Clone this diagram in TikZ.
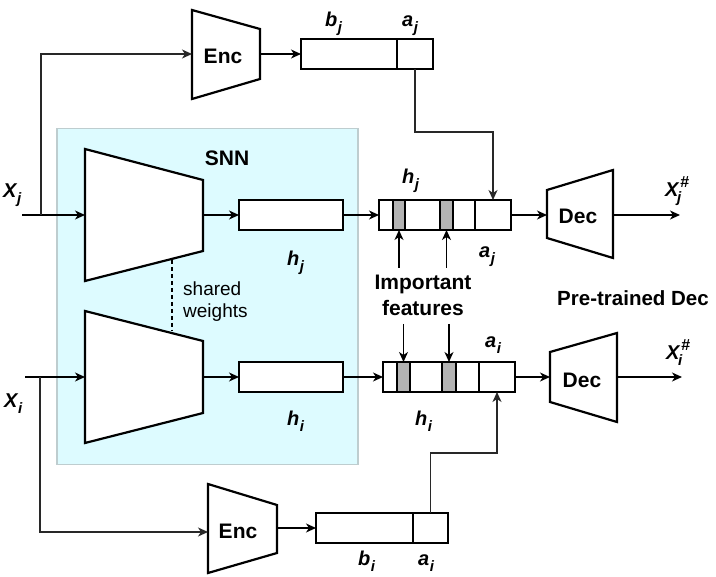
\documentclass[tikz,border=0pt]{standalone}
\usepackage{fontspec}
\setmainfont{Liberation Sans}
\usetikzlibrary{arrows.meta,calc}
\definecolor{snnfill}{RGB}{221,251,255}
\definecolor{snnline}{RGB}{190,205,207}
\definecolor{featgrey}{RGB}{179,179,179}
\definecolor{routecol}{RGB}{40,40,40}
\newcommand\vsub[1]{\raisebox{-5.5pt}{\fontsize{15}{18}\selectfont\bfseries\itshape #1}}
\newcommand\vlbl[2]{{\bfseries\itshape #1}\kern0.5pt\vsub{#2}}
\newcommand\vlblh[2]{{\bfseries\itshape #1}\rlap{\kern1.5pt\raisebox{9pt}{\fontsize{16}{18}\selectfont\bfseries\itshape\#}}\kern-1.5pt\vsub{#2}}
\begin{document}
\begin{tikzpicture}[x=1pt,y=-1pt,
  blk/.style={draw,line width=2.2pt,fill=white,line join=miter},
  vecell/.style={draw,line width=2.2pt,fill=white,rectangle,inner sep=0pt,outer sep=0pt,minimum height=30pt,anchor=west},
  greycell/.style={vecell,fill=featgrey},
  tipped/.style={-{Stealth[length=10pt,width=9pt,inset=3pt]}},
  arr/.style={line width=1.3pt,tipped},
  route/.style={line width=1.1pt,draw=routecol},
  bigtext/.style={font=\fontsize{21}{26}\selectfont\bfseries,inner sep=0pt},
  varlabel/.style={font=\fontsize{20}{24}\selectfont,inner sep=0pt,anchor=base west},
  ]
\useasboundingbox (0,0) rectangle (716,577);

% SNN background
\node[draw=snnline,fill=snnfill,line width=1.5pt,minimum width=301pt,minimum height=336pt,inner sep=0pt,anchor=north west] (snn) at (56,128) {};
\node[bigtext] (snnlbl) at (227,158) {SNN};

% top encoder
\draw[blk] (192,10) -- (260,29) -- (260,79) -- (192,99) -- cycle;
\node[bigtext] (encj) at (223,56) {Enc};
\coordinate (encj-in) at (192,54);
\coordinate (encj-out) at (260,54);

% SNN trapezoids
\draw[blk] (85,149) -- (203,180) -- (203,251) -- (85,281) -- cycle;
\coordinate (snnj-in) at (85,215);
\coordinate (snnj-out) at (203,215);
\draw[blk] (85,311) -- (203,341) -- (203,413) -- (85,443) -- cycle;
\coordinate (snni-in) at (85,377);
\coordinate (snni-out) at (203,377);
\draw[line width=1.2pt,dash pattern=on 4pt off 3pt] (172,260) -- (172,331);
\node[anchor=west,align=left,font=\fontsize{19}{22}\selectfont,inner sep=0pt] (shw) at (183,301.5) {shared\\weights};

% bottom encoder
\draw[blk] (208,484) -- (277,505) -- (277,553) -- (208,573) -- cycle;
\node[bigtext] (enci) at (238,531) {Enc};
\coordinate (enci-in) at (208,532);
\coordinate (enci-out) at (277,528);

% decoders
\draw[blk] (547,190) -- (613,170) -- (613,258) -- (547,238) -- cycle;
\node[bigtext] (decj) at (578,216) {Dec};
\coordinate (decj-in) at (547,215);
\coordinate (decj-out) at (613,215);
\draw[blk] (550,352) -- (617,333) -- (617,422) -- (550,402) -- cycle;
\node[bigtext] (deci) at (582,380) {Dec};
\coordinate (deci-in) at (550,377);
\coordinate (deci-out) at (617,377);
\node[bigtext,font=\fontsize{20.5}{24}\selectfont\bfseries] (ptd) at (633,298) {Pre-trained Dec};

% code boxes
\node[vecell,minimum width=96pt] (bj) at (301,54) {};
\node[vecell,minimum width=36pt] (ajt) at (bj.east) {};
\node[vecell,minimum width=97pt] (bi) at (316,528) {};
\node[vecell,minimum width=35pt] (aib) at (bi.east) {};

% SNN outputs
\node[vecell,minimum width=104pt] (hjbar) at (239,215) {};
\node[vecell,minimum width=104pt] (hibar) at (239,377) {};

% concatenated vectors
\node[vecell,minimum width=14pt] (vj1) at (379,215) {};
\node[greycell,minimum width=12pt] (gj1) at (vj1.east) {};
\node[vecell,minimum width=35pt] (vj2) at (gj1.east) {};
\node[greycell,minimum width=13pt] (gj2) at (vj2.east) {};
\node[vecell,minimum width=22pt] (vj3) at (gj2.east) {};
\node[vecell,minimum width=36pt] (vaj) at (vj3.east) {};

\node[vecell,minimum width=14pt] (vi1) at (383,377) {};
\node[greycell,minimum width=13pt] (gi1) at (vi1.east) {};
\node[vecell,minimum width=32pt] (vi2) at (gi1.east) {};
\node[greycell,minimum width=14pt] (gi2) at (vi2.east) {};
\node[vecell,minimum width=23pt] (vi3) at (gi2.east) {};
\node[vecell,minimum width=36pt] (vai) at (vi3.east) {};

\node[bigtext,align=center] (impf) at (423,295) {Important\\features};

% inputs / outputs
\coordinate (xj-start) at (22,215);
\coordinate (xj-branch) at (41,215);
\coordinate (xi-start) at (25,377);
\coordinate (xi-branch) at (40,377);
\coordinate (xj-end) at (680,215);
\coordinate (xi-end) at (682,377);

% connectors
\draw[arr] (xj-start) -- (snnj-in);
\draw[route,tipped] (xj-branch) |- (encj-in);
\draw[arr] (encj-out) -- (bj.west);
\draw[route,tipped] (ajt.south) -- ++(0,63) -| (vaj.north);
\draw[arr] (snnj-out) -- (hjbar.west);
\draw[arr] (hjbar.east) -- (vj1.west);
\draw[arr] (vaj.east) -- (decj-in);
\draw[arr] (decj-out) -- (xj-end);

\draw[arr] (xi-start) -- (snni-in);
\draw[route,tipped] (xi-branch) |- (enci-in);
\draw[arr] (enci-out) -- (bi.west);
\draw[route,tipped] (aib.north) -- ++(0,-60) -| (vai.south);
\draw[arr] (snni-out) -- (hibar.west);
\draw[arr] (hibar.east) -- (vi1.west);
\draw[arr] (vai.east) -- (deci-in);
\draw[arr] (deci-out) -- (xi-end);

\draw[arr] ([yshift=-38pt]gj1.south) -- (gj1.south);
\draw[arr] ([yshift=-38pt]gj2.south) -- (gj2.south);
\draw[arr] ([yshift=38pt]gi1.north) -- (gi1.north);
\draw[arr] ([yshift=38pt]gi2.north) -- (gi2.north);

% variable labels
\node[varlabel] (lxj) at (3,198) {\vlbl{X}{j}};
\node[varlabel] (lxi) at (4,408) {\vlbl{X}{i}};
\node[varlabel] (lxjh) at (665,197) {\vlblh{X}{j}};
\node[varlabel] (lxih) at (666,360) {\vlblh{X}{i}};
\node[varlabel] (lhj1) at (287,266) {\vlbl{h}{j}};
\node[varlabel] (lhi1) at (287,426) {\vlbl{h}{i}};
\node[varlabel] (lhj2) at (402,184) {\vlbl{h}{j}};
\node[varlabel] (laj2) at (479,258) {\vlbl{a}{j}};
\node[varlabel] (lai2) at (485,348) {\vlbl{a}{i}};
\node[varlabel] (lhi2) at (415,426) {\vlbl{h}{i}};
\node[varlabel] (lbj) at (325,27) {\vlbl{b}{j}};
\node[varlabel] (laj) at (402,27) {\vlbl{a}{j}};
\node[varlabel] (lbi) at (358,566) {\vlbl{b}{i}};
\node[varlabel] (lai) at (418,566) {\vlbl{a}{i}};
\end{tikzpicture}
\end{document}
